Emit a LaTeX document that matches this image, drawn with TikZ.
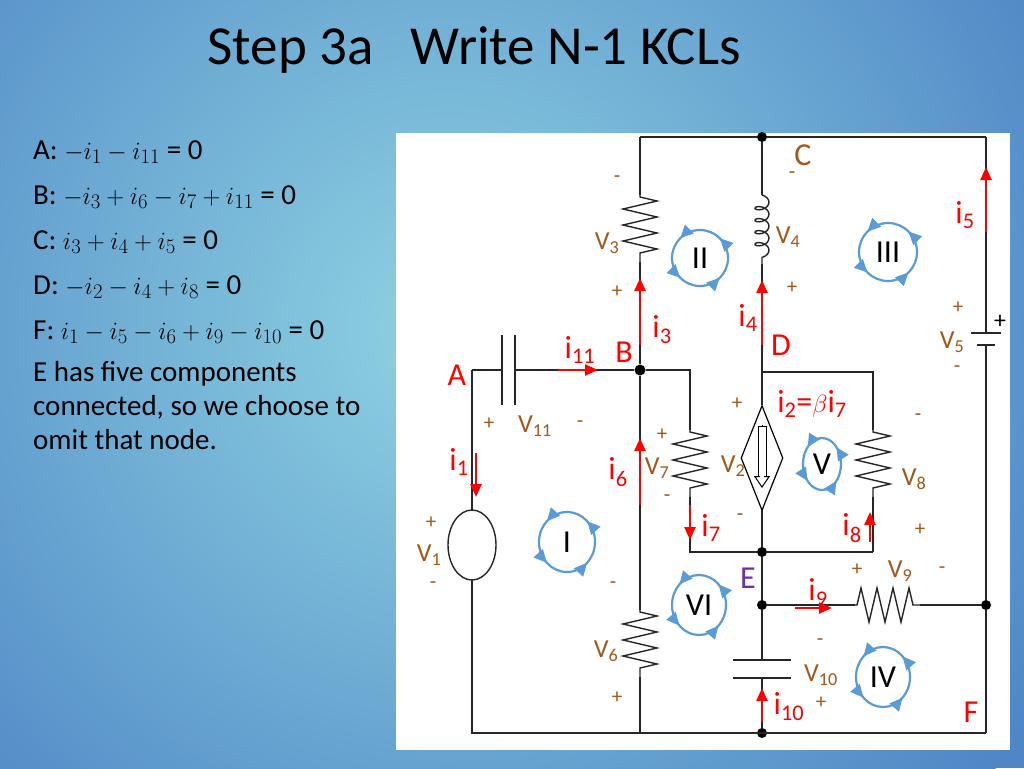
\documentclass[tikz,border=0pt]{standalone}
\usepackage{fontspec}
\setmainfont{Carlito}
\usetikzlibrary{arrows.meta,decorations.pathmorphing,decorations.markings,shapes.geometric}
\definecolor{brn}{HTML}{A0581C}
\definecolor{lblue}{HTML}{5B9BD5}
\definecolor{pur}{HTML}{7030A0}
\definecolor{bgout}{HTML}{4F86C6}
\definecolor{bgin}{HTML}{8FD3E2}
\tikzset{
 wire/.style={line width=1.4pt,black!85},
 res/.style={wire,decorate,decoration={zigzag,segment length=16pt,amplitude=17pt,pre length=2pt,post length=2pt}},
 coilst/.style={wire,decorate,decoration={coil,aspect=0.6,segment length=12pt,amplitude=7pt}},
 cur/.style={red,line width=2.4pt,-{Triangle[length=13pt,width=11pt]}},
 dot/.style={circle,fill=black,inner sep=0pt,minimum size=10pt},
 vl/.style={text=brn,font=\fontsize{26}{26}\selectfont,inner sep=1pt},
 pm/.style={text=brn,font=\fontsize{21}{21}\selectfont,inner sep=1pt},
 il/.style={text=red,font=\fontsize{32}{32}\selectfont,inner sep=1pt},
 nl/.style={text=red,font=\fontsize{32}{32}\selectfont,inner sep=1pt},
 ml/.style={text=black,font=\fontsize{32}{32}\selectfont,inner sep=1pt},
 loopc/.style={lblue,line width=2.2pt,postaction=decorate,decoration={markings,
   mark=at position 0.125 with {\arrow{Triangle[length=13pt,width=12pt]}},
   mark=at position 0.375 with {\arrow{Triangle[length=13pt,width=12pt]}},
   mark=at position 0.625 with {\arrow{Triangle[length=13pt,width=12pt]}},
   mark=at position 0.875 with {\arrow{Triangle[length=13pt,width=12pt]}}}},
 eq/.style={anchor=west,font=\fontsize{29}{34}\selectfont,inner sep=0pt}
}
\begin{document}
\begin{tikzpicture}[x=1pt,y=-1pt]
\useasboundingbox (0,0) rectangle (1024,768);
\fill[bgout] (0,0) rectangle (1024,768);
\begin{scope}
\clip (0,0) rectangle (1024,768);
\shade[inner color=bgin, outer color=bgout] (450,330) circle (700pt);
\end{scope}
\fill[white] (396,133) rectangle (1010,750);
% title
\node[anchor=west,font=\fontsize{55}{55}\selectfont] (title) at (204,50) {Step 3a\hspace{0.45em} Write N-1 KCLs};
% equations
\node[eq] (e1) at (33,152) {A: $-i_1-i_{11}$ = 0};
\node[eq] (e2) at (33,197) {B: $-i_3+i_6-i_7+i_{11}$ = 0};
\node[eq] (e3) at (33,242) {C: $i_3+i_4+i_5$ = 0};
\node[eq] (e4) at (33,287) {D: $-i_2-i_4+i_8$ = 0};
\node[eq] (e5) at (33,332) {F: $i_1-i_5-i_6+i_9-i_{10}$ = 0};
\node[eq,anchor=north west,align=left] (e6) at (33,361) {E has five components\\connected, so we choose to\\omit that node.};
% coordinates
\coordinate (tl) at (640,137); \node[dot] (C) at (762,137) {}; \coordinate (tr) at (986,137);
\coordinate (A) at (472,370); \node[dot,minimum size=11pt] (B) at (640,370) {};
\coordinate (D) at (762,372); \coordinate (B2) at (690,370); \coordinate (D2) at (873,372);
\coordinate (b7) at (690,552); \node[dot] (E) at (762,552) {}; \coordinate (b8) at (873,552);
\node[dot] (E2) at (762,605) {}; \node[dot] (F) at (986,605) {};
\coordinate (bl) at (472,733); \coordinate (b6) at (640,733); \node[dot] (bE) at (762,733) {}; \coordinate (br) at (986,733);
% top wires
\draw[wire] (tl) -- (C) -- (tr);
\draw[wire] (tl) -- (640,195); \draw[res] (640,195) -- (640,262); \draw[wire] (640,262) -- (B);
\draw[wire] (C) -- (762,195); \draw[coilst] (762,195) -- (762,264); \draw[wire] (762,264) -- (D);
% right branch with battery
\draw[wire] (tr) -- (986,333); \draw[wire] (971,333) -- (1001,333); \draw[wire] (977,345) -- (995,345);
\draw[wire] (986,345) -- (F) -- (br);
% left: capacitor V11
\draw[wire] (A) -- (502,370); \draw[wire] (502,335) -- (502,405); \draw[wire] (515,335) -- (515,405);
\draw[wire] (515,370) -- (B);
\draw[wire] (A) -- (472,510); \draw[wire] (472,545) ellipse (24pt and 35pt); \draw[wire] (472,580) -- (bl) -- (br);
% B branches
\draw[wire] (B) -- (B2) -- (690,430); \draw[res] (690,430) -- (690,497); \draw[wire] (690,497) -- (b7) -- (E) -- (b8);
\draw[wire] (B) -- (640,610); \draw[res] (640,610) -- (640,677); \draw[wire] (640,677) -- (b6);
\draw[wire] (D) -- (D2) -- (873,430); \draw[res] (873,430) -- (873,497); \draw[wire] (873,497) -- (b8);
% dependent source
\draw[wire] (D) -- (762,405);
\node[diamond,draw,line width=1.2pt,minimum width=42pt,minimum height=105pt,inner sep=0pt] (src) at (762,458) {};
\draw[line width=1pt,-{Triangle[open,length=12pt,width=16pt]}] (762,425) -- (762,488);
\draw[line width=4pt,white] (762,426) -- (762,478);
\draw[line width=1pt] (758,426) -- (758,477) (766,426) -- (766,477) (758,426)--(766,426);
\draw[wire] (762,510) -- (E) -- (E2);
% E branch
\draw[wire] (E2) -- (855,605); \draw[res] (855,605) -- (920,605); \draw[wire] (920,605) -- (F);
\draw[wire] (E2) -- (762,660); \draw[wire] (733,660) -- (791,660); \draw[wire] (733,678) -- (791,678); \draw[wire] (762,678) -- (bE);
% currents
\draw[cur] (558,370) -- (598,370);
\draw[cur] (640,345) -- (640,278);
\draw[cur] (762,345) -- (762,280);
\draw[cur] (986,232) -- (986,167);
\draw[cur] (476,453) -- (476,497);
\draw[cur] (640,505) -- (640,438);
\draw[cur] (690,505) -- (690,540);
\draw[cur] (870,542) -- (870,512);
\draw[cur] (795,608) -- (832,608);
\draw[cur] (762,722) -- (762,688);
% current labels
\node[il] (li11) at (580,350) {i\textsubscript{11}};
\node[il] (li3) at (662,330) {i\textsubscript{3}};
\node[il] (li4) at (748,318) {i\textsubscript{4}};
\node[il] (li5) at (965,215) {i\textsubscript{5}};
\node[il] (li1) at (459,462) {i\textsubscript{1}};
\node[il] (li6) at (618,472) {i\textsubscript{6}};
\node[il] (li7) at (711,528) {i\textsubscript{7}};
\node[il] (li8) at (852,528) {i\textsubscript{8}};
\node[il] (li9) at (818,592) {i\textsubscript{9}};
\node[il] (li10) at (789,707) {i\textsubscript{10}};
\node[il] (li2) at (812,404) {i\textsubscript{2}=$\beta$i\textsubscript{7}};
% node labels
\node[nl] (lA) at (457,375) {A};
\node[nl] (lB) at (624,352) {B};
\node[text=brn,font=\fontsize{32}{32}\selectfont] (lC) at (803,155) {C};
\node[nl] (lD) at (781,345) {D};
\node[text=pur,font=\fontsize{32}{32}\selectfont] (lE) at (748,578) {E};
\node[nl] (lF) at (971,712) {F};
% voltage labels
\node[vl] (v3) at (607,243) {V\textsubscript{3}};
\node[vl] (v4) at (788,237) {V\textsubscript{4}};
\node[vl] (v5) at (952,342) {V\textsubscript{5}};
\node[vl] (v11) at (535,426) {V\textsubscript{11}};
\node[vl] (v7) at (657,468) {V\textsubscript{7}};
\node[vl] (v2) at (733,466) {V\textsubscript{2}};
\node[vl] (v8) at (914,479) {V\textsubscript{8}};
\node[vl] (v1) at (429,555) {V\textsubscript{1}};
\node[vl] (v9) at (900,571) {V\textsubscript{9}};
\node[vl] (v6) at (606,651) {V\textsubscript{6}};
\node[vl] (v10) at (821,675) {V\textsubscript{10}};
% plus/minus
\foreach \s/\x/\y in {-/617/179, +/617/292, -/792/175, +/792/288, +/958/308, -/957/369, +/489/424, -/580/424, +/737/404, -/918/417, +/662/435, -/667/498, -/740/517, +/920/530, +/431/523, -/433/585, +/857/570, -/942/570, -/613/585, +/617/698, -/820/642, +/821/703}
  \node[pm] at (\x,\y) {\s};
\node[font=\fontsize{24}{24}\selectfont,inner sep=0pt] (bp) at (1000,322) {+};
% loops
\foreach \n/\x/\y/\rx/\ry in {II/700/258/28/28, III/888/252/29/29, V/822/464/19/26, I/567/542/28/30, VI/699/605/27/30, IV/883/677/27/30}{
  \draw[loopc] (\x,\y) ellipse (\rx pt and \ry pt);
  \node[ml] at (\x,\y) {\n};
}
\end{tikzpicture}
\end{document}
